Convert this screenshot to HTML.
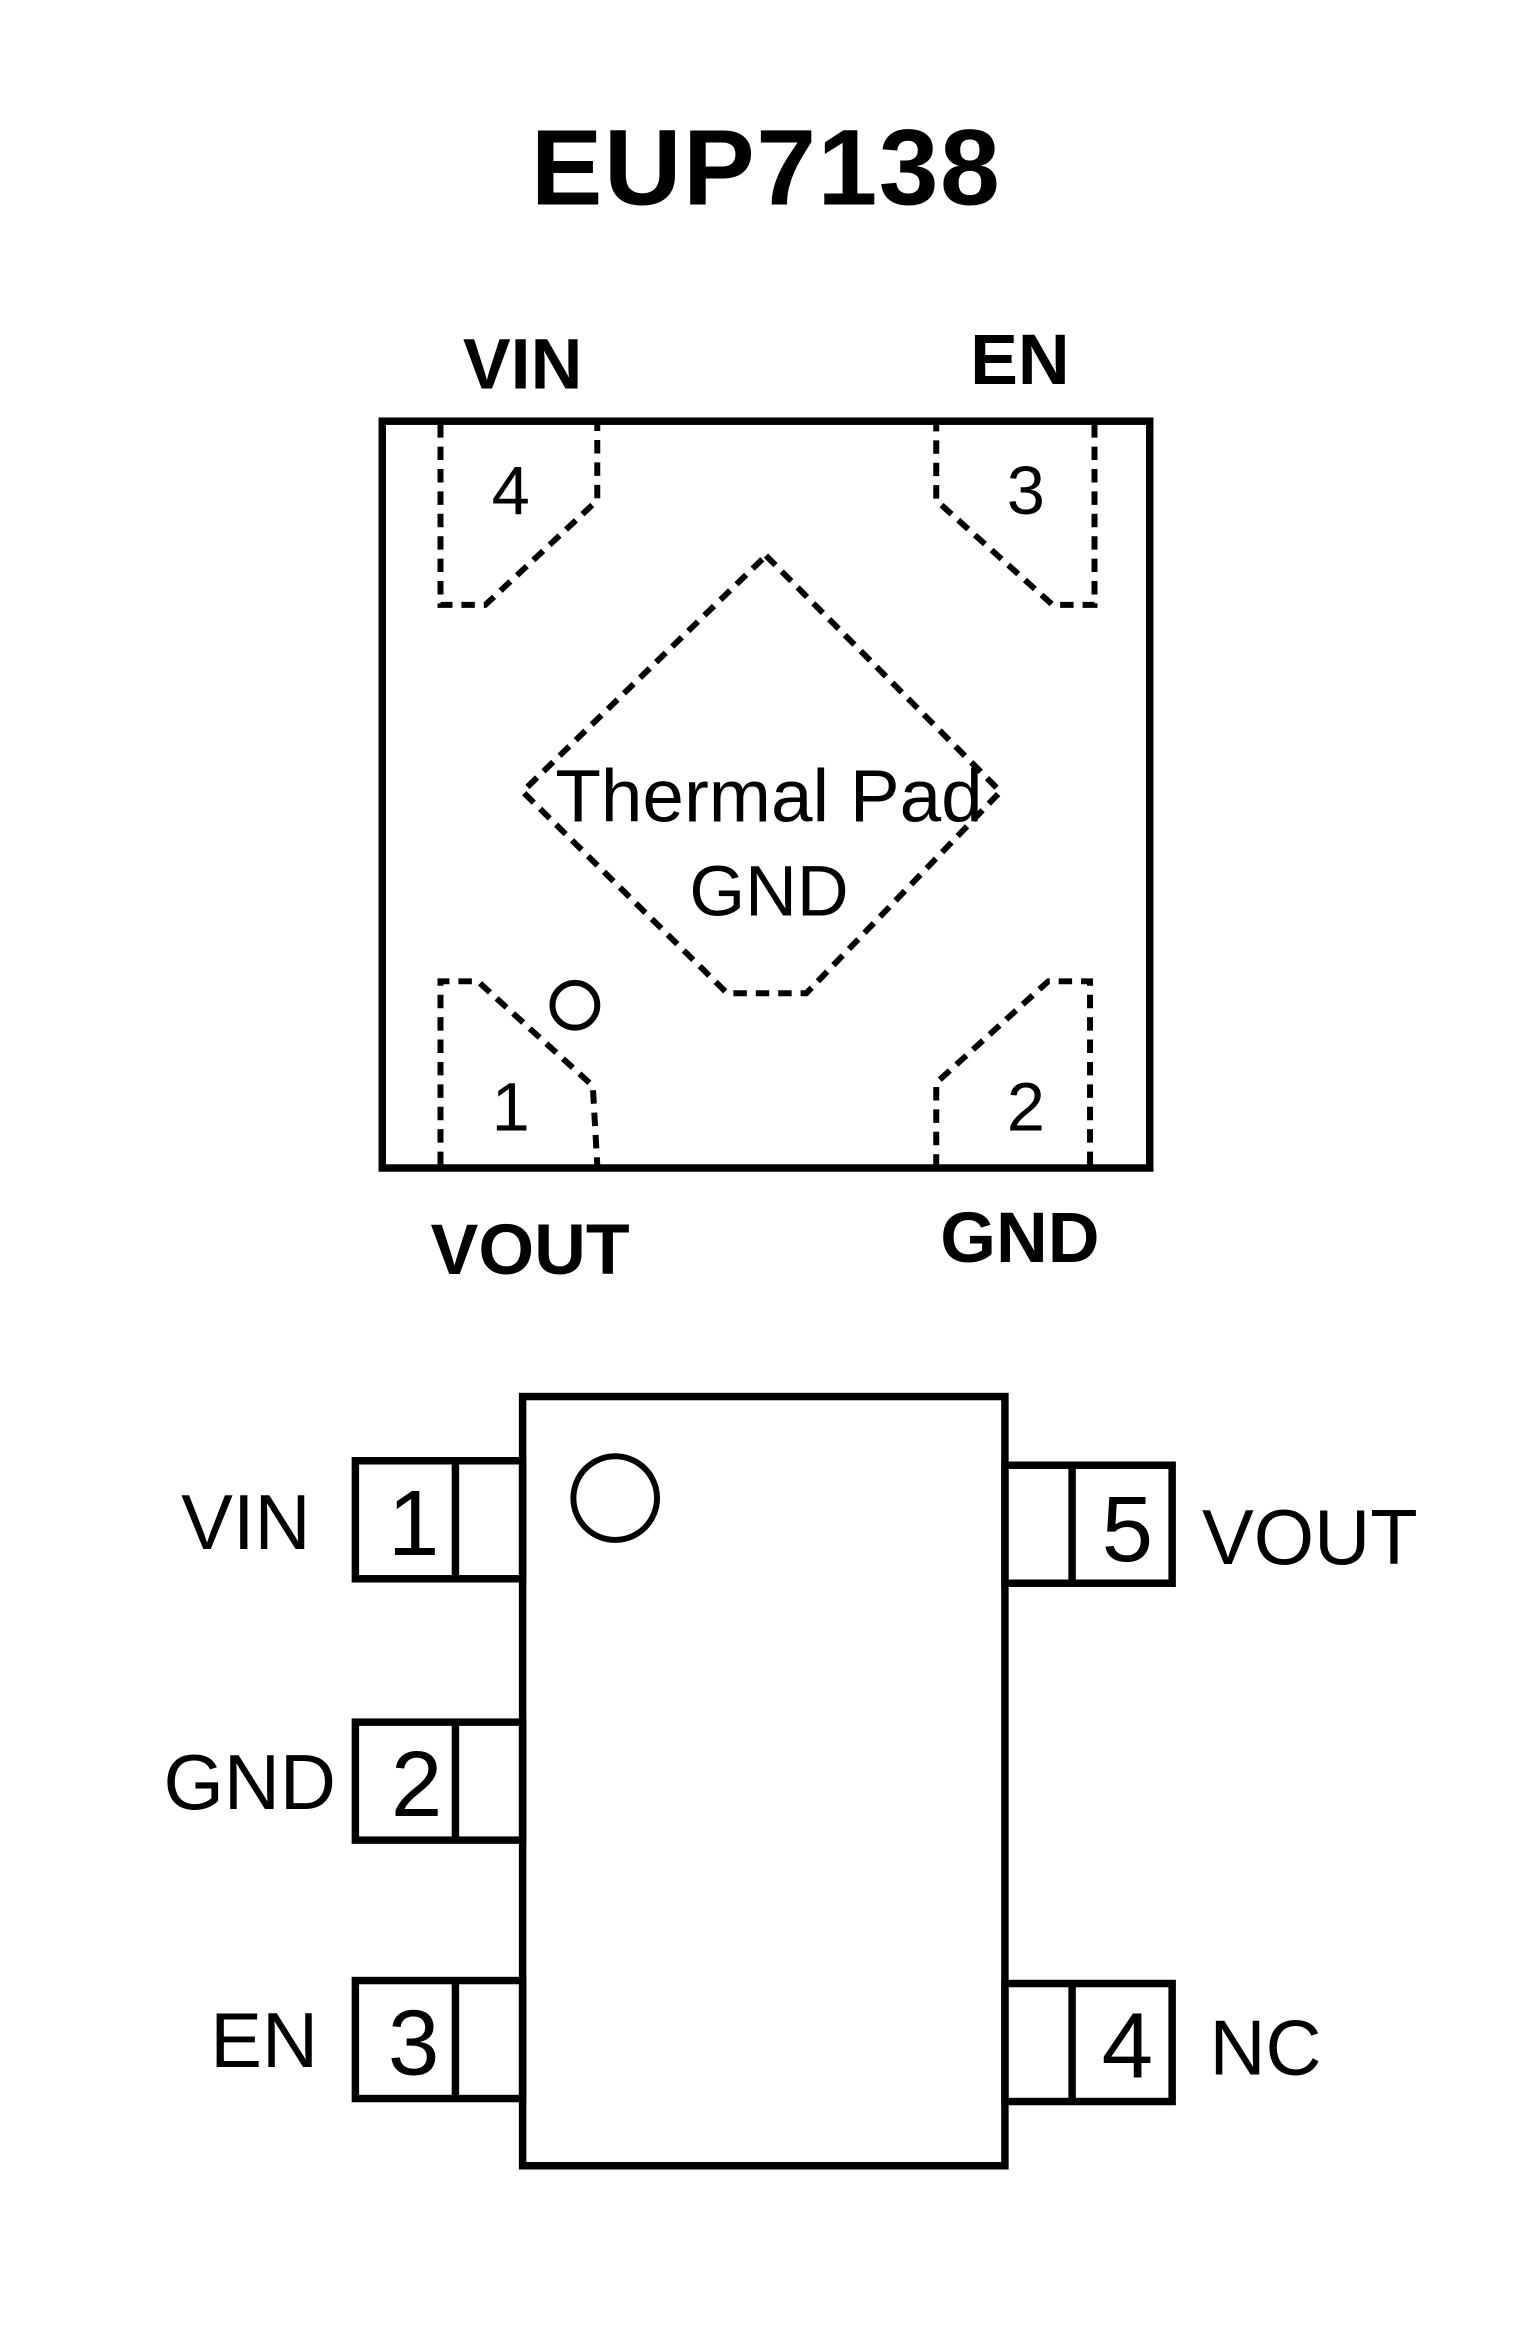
<!DOCTYPE html>
<html><head><meta charset="utf-8"><style>
html,body{margin:0;padding:0;background:#fff;}
svg{display:block;}
</style></head><body>
<svg width="1535" height="2342" viewBox="0 0 1028 1568" preserveAspectRatio="none" xmlns="http://www.w3.org/2000/svg" font-family="Liberation Sans, Arial, sans-serif">
<rect x="0" y="0" width="1028" height="1568" fill="#fff"/>
<text x="513" y="137" text-anchor="middle" font-size="72" font-weight="bold" fill="#000" letter-spacing="1">EUP7138</text>

<!-- top package -->
<rect x="256" y="282" width="514" height="500" fill="none" stroke="#000" stroke-width="5"/>
<g fill="none" stroke="#000" stroke-width="4" stroke-dasharray="9,6">
<path d="M295,284 L295,405 L325,405 L400,335 L400,284"/>
<path d="M733,284 L733,405 L705,405 L627,335 L627,284"/>
<path d="M295,780 L295,657 L320,657 L397,727 L400,780"/>
<path d="M730,780 L730,657 L702,657 L627,725 L627,780"/>
<path d="M513,372 L670,530 L540,665 L487,665 L350,530 Z"/>
</g>
<circle cx="385" cy="673" r="15" fill="none" stroke="#000" stroke-width="4"/>
<g font-size="46" fill="#000" text-anchor="middle">
<text x="342" y="344">4</text>
<text x="687" y="344">3</text>
<text x="342" y="757">1</text>
<text x="687" y="757">2</text>
<text x="515" y="550" font-size="50">Thermal Pad</text>
<text x="515" y="613" font-size="48">GND</text>
</g>
<g font-size="48" font-weight="bold" fill="#000" text-anchor="middle">
<text x="350" y="260">VIN</text>
<text x="683" y="257">EN</text>
<text x="355" y="853">VOUT</text>
<text x="683" y="845">GND</text>
</g>

<!-- bottom package -->
<rect x="350" y="935" width="323" height="515" fill="none" stroke="#000" stroke-width="5"/>
<circle cx="412" cy="1003" r="28" fill="none" stroke="#000" stroke-width="4"/>
<g fill="none" stroke="#000" stroke-width="5">
<rect x="238" y="978" width="112" height="79"/><line x1="305" y1="978" x2="305" y2="1057"/>
<rect x="238" y="1153" width="112" height="79"/><line x1="305" y1="1153" x2="305" y2="1232"/>
<rect x="238" y="1326" width="112" height="79"/><line x1="305" y1="1326" x2="305" y2="1405"/>
<rect x="673" y="981" width="112" height="79"/><line x1="718" y1="981" x2="718" y2="1060"/>
<rect x="673" y="1328" width="112" height="79"/><line x1="718" y1="1328" x2="718" y2="1407"/>
</g>
<g font-size="62" fill="#000" text-anchor="middle">
<text x="277" y="1041">1</text>
<text x="279" y="1216">2</text>
<text x="277" y="1389">3</text>
<text x="755" y="1045">5</text>
<text x="755" y="1391">4</text>
</g>
<g font-size="52" fill="#000">
<text x="208" y="1037" text-anchor="end">VIN</text>
<text x="225" y="1211" text-anchor="end">GND</text>
<text x="213" y="1384" text-anchor="end">EN</text>
<text x="805" y="1047">VOUT</text>
<text x="810" y="1389">NC</text>
</g>
</svg>
</body></html>
